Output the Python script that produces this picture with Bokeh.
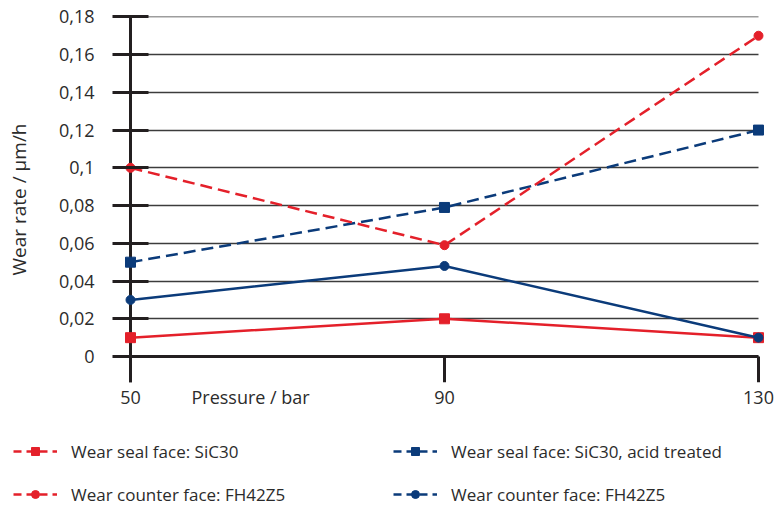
from bokeh.plotting import figure
from bokeh.layouts import column
from bokeh.models import FixedTicker, Grid, Span, Legend, LegendItem, Range1d
from bokeh.embed import file_html
from bokeh.resources import INLINE

# ---- data ----
pressure = [50, 90, 130]
seal_sic30 = [0.01, 0.02, 0.01]
seal_sic30_acid = [0.05, 0.079, 0.12]
counter_red = [0.1, 0.059, 0.17]
counter_blue = [0.03, 0.048, 0.01]

x_ticks = [50, 90, 130]
x_tick_labels = ["50", "90", "130"]
y_ticks = [0, 0.02, 0.04, 0.06, 0.08, 0.1, 0.12, 0.14, 0.16, 0.18]
y_tick_labels = ["0", "0,02", "0,04", "0,06", "0,08", "0,1", "0,12", "0,14", "0,16", "0,18"]
legend_labels = ["Wear seal face: SiC30", "Wear counter face: FH42Z5",
                 "Wear seal face: SiC30, acid treated", "Wear counter face: FH42Z5"]
x_title = "Pressure / bar"
x_title_at = 65.3          # the x title sits in the tick-label row, between 50 and 90
y_title = "Wear rate / µm/h"

# ---- styles ----
RED = "#E4202A"
BLUE = "#0B3B7A"
DARK = "#231F20"
GRID = "#3c3c3c"
FONT = "Open Sans"
TXT = "#2b2b2b"
W = 775

Y0, Y1 = -0.013765, 0.1802
p = figure(frame_width=656, frame_height=366,
           min_border_left=112, min_border_right=W - 112 - 656, min_border_top=16, min_border_bottom=40,
           x_range=Range1d(47.707, 131.274), y_range=Range1d(Y0, Y1),
           output_backend="svg", toolbar_location=None)
p.outline_line_color = None
p.xgrid.visible = False
p.frame_align = False

# y axis
p.yaxis.ticker = FixedTicker(ticks=y_ticks)
p.yaxis.major_label_overrides = dict(zip(y_ticks, y_tick_labels))
p.yaxis.axis_line_color = None
p.yaxis.major_tick_in = 36
p.yaxis.major_tick_out = 0
p.yaxis.major_tick_line_width = 3
p.yaxis.major_tick_line_color = DARK
p.yaxis.minor_tick_line_color = None
p.yaxis.major_label_standoff = 18
p.yaxis.major_label_text_font = FONT
p.yaxis.major_label_text_font_size = "18px"
p.yaxis.major_label_text_color = TXT
p.yaxis.axis_label = y_title
p.yaxis.axis_label_text_font = FONT
p.yaxis.axis_label_text_font_style = "normal"
p.yaxis.axis_label_text_font_size = "19px"
p.yaxis.axis_label_text_color = TXT
p.yaxis.axis_label_standoff = 24

# x axis: labels only (tick marks drawn as a bounded grid)
x_label_pos = x_ticks + [x_title_at]
x_label_txt = x_tick_labels + [x_title]
p.xaxis.ticker = FixedTicker(ticks=x_label_pos)
p.xaxis.major_label_overrides = dict(zip(x_label_pos, x_label_txt))
p.xaxis.axis_line_color = None
p.xaxis.major_tick_line_color = None
p.xaxis.major_tick_in = 0
p.xaxis.major_tick_out = 0
p.xaxis.minor_tick_line_color = None
p.xaxis.major_label_standoff = 2
p.xaxis.major_label_text_font = FONT
p.xaxis.major_label_text_font_size = "18px"
p.xaxis.major_label_text_color = TXT

# grid
p.ygrid.ticker = FixedTicker(ticks=y_ticks)
p.ygrid.cross_bounds = (50, 130)
p.ygrid.grid_line_color = GRID
p.ygrid.grid_line_width = 1.6

zero_line = Grid(dimension=1, ticker=FixedTicker(ticks=[0]), cross_bounds=(50, 130),
                 grid_line_color=DARK, grid_line_width=3)
p.add_layout(zero_line)
x_tick_marks = Grid(dimension=0, ticker=FixedTicker(ticks=x_ticks), cross_bounds=(Y0, 0),
                    grid_line_color=DARK, grid_line_width=3)
p.add_layout(x_tick_marks)
y_line = Span(location=50, dimension="height", line_color=DARK, line_width=3, level="underlay")
p.add_layout(y_line)

# series
p.line(pressure, seal_sic30, color=RED, line_width=2.5)
p.scatter(pressure, seal_sic30, marker="square", size=10, color=RED)
p.line(pressure, seal_sic30_acid, color=BLUE, line_width=2.5, line_dash="12 6")
p.scatter(pressure, seal_sic30_acid, marker="square", size=10, color=BLUE)
p.line(pressure, counter_red, color=RED, line_width=2.5, line_dash="12 6")
p.scatter(pressure, counter_red, marker="circle", size=9, color=RED)
p.line(pressure, counter_blue, color=BLUE, line_width=2.5)
p.scatter(pressure, counter_blue, marker="circle", size=9, color=BLUE)

# ---- legend strip (separate figure whose frame covers it entirely;
#      its renderers hold the series but lie outside its ranges, so only the legend shows) ----
lg = figure(width=W, height=84, min_border=0, x_range=Range1d(0, 1), y_range=Range1d(0, 1),
            output_backend="svg", toolbar_location=None)
lg.axis.visible = False
lg.grid.visible = False
lg.outline_line_color = None
lg.frame_align = False


def sample(ys, color, marker):
    ln = lg.line(pressure, ys, color=color, line_width=2.5, line_dash="8 5")
    mk = lg.scatter(pressure, ys, marker=marker, color=color, size=8)
    return [ln, mk]


legend = Legend(
    items=[LegendItem(label=legend_labels[0], renderers=sample(seal_sic30, RED, "square")),
           LegendItem(label=legend_labels[1], renderers=sample(counter_red, RED, "circle")),
           LegendItem(label=legend_labels[2], renderers=sample(seal_sic30_acid, BLUE, "square")),
           LegendItem(label=legend_labels[3], renderers=sample(counter_blue, BLUE, "circle"))],
    location=(13, 0), orientation="vertical", ncols=2,
    glyph_width=44, glyph_height=20, label_height=24, label_width=303, label_standoff=14,
    spacing=19, padding=0, margin=0, border_line_color=None,
    background_fill_alpha=0, label_text_font=FONT, label_text_font_size="17px",
    label_text_color=TXT)
lg.add_layout(legend, "center")

layout = column(p, lg, spacing=0)
open("out.html", "w").write(file_html(layout, INLINE))
